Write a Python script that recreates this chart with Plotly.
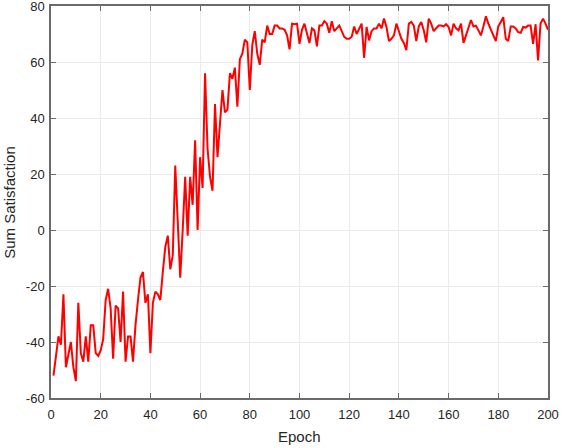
import plotly.graph_objects as go

# Sum satisfaction per training epoch
epochs = list(range(1, 201))
satisfaction = [
    -52, -44, -38, -41, -23, -49, -44, -40, -49, -54,
    -26, -44, -47, -38, -47, -34, -34, -44, -45, -43,
    -39, -25, -21, -28, -46, -27, -28, -40, -22, -47,
    -38, -38, -47, -34, -25, -17, -15, -26, -23, -44,
    -26, -22, -23, -25, -15, -6, -2, -14, -9, 23,
    3, -17, 0, 19, -2, 19, 9, 32, 0, 26,
    15, 56, 29, 19, 14, 45, 26, 40, 50, 42,
    43, 56, 54, 58, 44, 61, 63, 68, 67, 50,
    66, 71, 63, 59, 68, 67, 73, 70, 70, 73,
    73, 72, 72, 71.5, 69.5, 64.5, 73.7, 73.5, 73.7, 66.5,
    71.5, 73.7, 70.7, 66.8, 72, 71.3, 65.6, 73, 73, 74.6,
    73.7, 70.4, 74.6, 71, 72, 73, 71, 69, 68.3, 68.3,
    69, 72.7, 70, 72, 73.7, 61.5, 72.5, 67.7, 71, 72,
    72, 73.7, 72, 75.5, 72.5, 67.5, 68.3, 69.5, 73.7, 71,
    68.3, 66.8, 64.2, 73.7, 74.3, 73, 67.5, 72.7, 74.3, 71.3,
    67, 75.5, 73.7, 71, 72, 73, 73, 72.7, 73.5, 72.5,
    69.5, 73.7, 72, 71.3, 73.7, 66.8, 69.5, 72.5, 75, 72.7,
    73, 71.3, 69.5, 72.7, 76.3, 73.7, 71.3, 69.5, 67.5, 72.7,
    74.3, 76, 68.3, 67.5, 72.7, 72.7, 72, 70.7, 70.4, 72.5,
    72.3, 73, 73, 66.5, 73.5, 60.6, 73.7, 75.5, 73.7, 71.5,
]

x_ticks = [0, 20, 40, 60, 80, 100, 120, 140, 160, 180, 200]
y_ticks = [-60, -40, -20, 0, 20, 40, 60, 80]
y_tick_labels = ["-60", "-40", "-20", "0", "20", "40", "60", "80"]

fig = go.Figure()

fig.add_trace(go.Scatter(
    x=epochs, y=satisfaction,
    mode="lines",
    line=dict(color="#ff0000", width=2),
    showlegend=False,
    hoverinfo="skip",
))

axis_style = dict(
    automargin=False,
    showgrid=True,
    gridcolor="#ebebeb",
    gridwidth=1,
    zeroline=False,
    showline=True,
    linecolor="#6a6a6a",
    linewidth=1.5,
    mirror="ticks",
    ticks="inside",
    ticklen=5,
    tickcolor="#6a6a6a",
    tickwidth=1.2,
    ticklabeloverflow="allow",
    tickfont=dict(size=13, color="#262626"),
)

fig.update_layout(
    width=562,
    height=448,
    plot_bgcolor="white",
    paper_bgcolor="white",
    font=dict(family="Liberation Sans, Arial, sans-serif", color="#262626"),
    margin=dict(l=51, r=14, t=6, b=50),
    xaxis=dict(range=[0, 200], tickvals=x_ticks, ticklabelstandoff=4,
               **axis_style),
    yaxis=dict(range=[-60, 80], tickvals=y_ticks, ticktext=y_tick_labels,
               ticklabelstandoff=2, **axis_style),
)

# axis titles placed like the original figure
fig.add_annotation(text="Epoch", xref="paper", yref="paper",
                   x=0.5, y=-0.098, yanchor="middle", showarrow=False,
                   font=dict(size=15, color="#262626"))
fig.add_annotation(text="Sum Satisfaction", xref="paper", yref="paper",
                   x=-0.085, y=0.5, xanchor="center", textangle=-90,
                   showarrow=False, font=dict(size=15, color="#262626"))

# drop the default page margin so the figure sits at the window corner
fig.write_html("out.html",
               config={"displayModeBar": False},
               post_script="document.body.style.margin='0';"
                           "document.body.style.overflow='hidden';")
